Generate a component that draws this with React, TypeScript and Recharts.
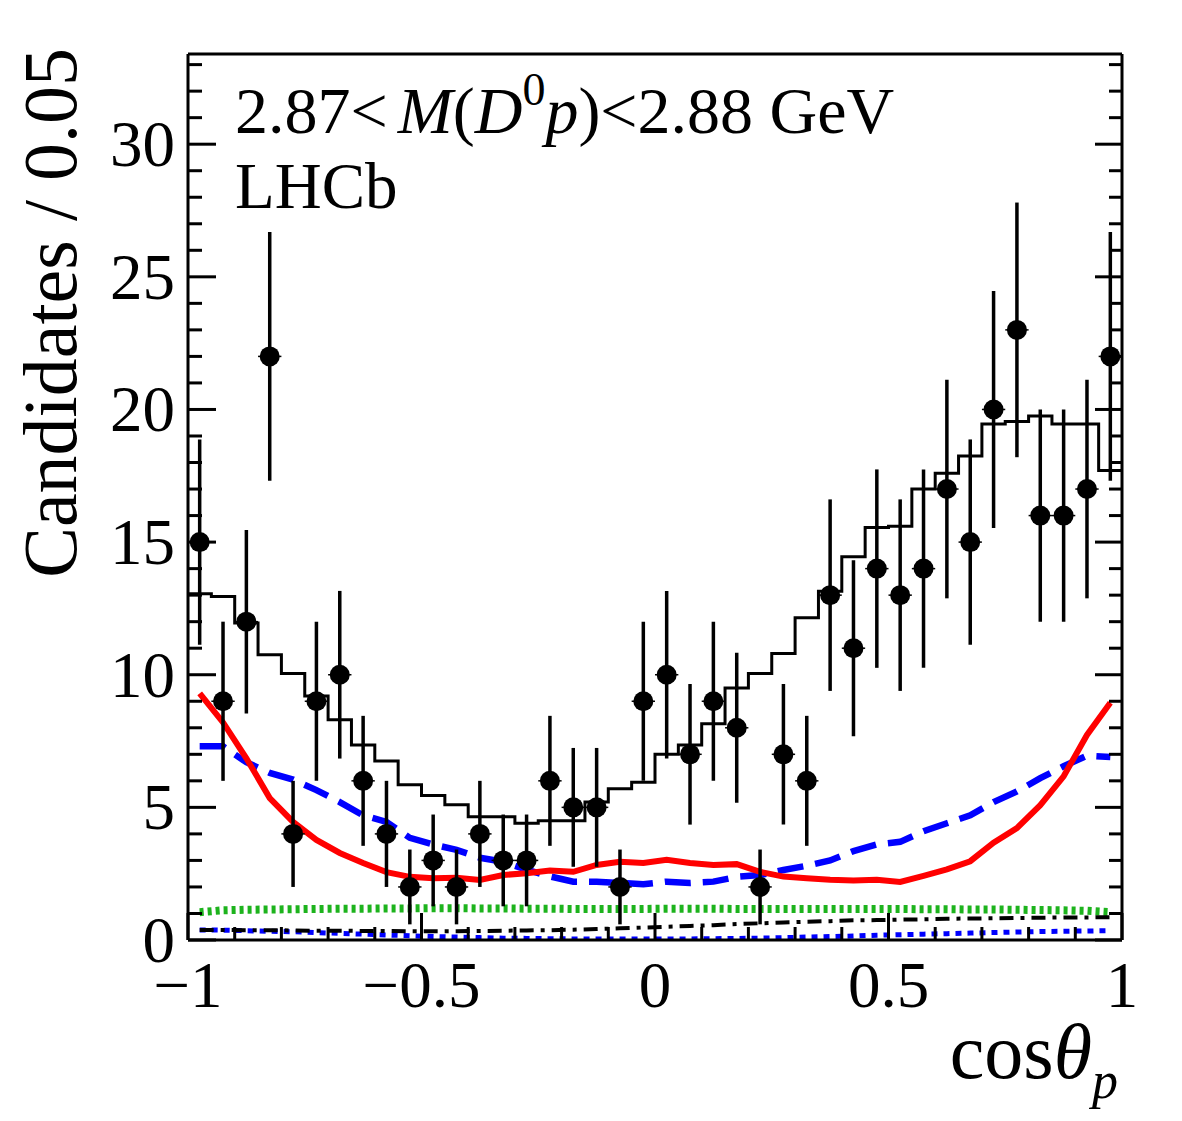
import React from "react";
import {
  ComposedChart,
  Line,
  Scatter,
  ErrorBar,
  XAxis,
  YAxis,
} from "recharts";

// bin centres of cos(theta_p), 40 bins of 0.05
const binCenters = [
  -0.975, -0.925, -0.875, -0.825, -0.775, -0.725, -0.675, -0.625, -0.575, -0.525,
  -0.475, -0.425, -0.375, -0.325, -0.275, -0.225, -0.175, -0.125, -0.075, -0.025,
  0.025, 0.075, 0.125, 0.175, 0.225, 0.275, 0.325, 0.375, 0.425, 0.475,
  0.525, 0.575, 0.625, 0.675, 0.725, 0.775, 0.825, 0.875, 0.925, 0.975,
];

const counts = [
  15, 9, 12, 22, 4, 9, 10, 6, 4, 2, 3, 2, 4, 3, 3, 6, 5, 5, 2, 9,
  10, 7, 9, 8, 2, 7, 6, 13, 11, 14, 13, 14, 17, 15, 20, 23, 16, 16, 17, 22,
];

const countErrors = [
  3.87, 3.0, 3.46, 4.69, 2.0, 3.0, 3.16, 2.45, 2.0, 1.41, 1.73, 1.41, 2.0, 1.73, 1.73, 2.45, 2.24, 2.24, 1.41, 3.0,
  3.16, 2.65, 3.0, 2.83, 1.41, 2.65, 2.45, 3.61, 3.32, 3.74, 3.61, 3.74, 4.12, 3.87, 4.47, 4.8, 4.0, 4.0, 4.12, 4.69,
];

// total fit (black histogram)
const totalFit = [
  13.05, 12.95, 11.95, 10.75, 10.05, 9.2, 8.3, 7.35, 6.75, 5.85,
  5.45, 5.1, 4.65, 4.65, 4.4, 4.5, 4.5, 5.2, 5.7, 5.95,
  7.0, 7.35, 8.15, 9.5, 10.05, 10.8, 12.15, 13.15, 14.45, 15.55,
  15.6, 17.0, 17.6, 18.25, 19.45, 19.55, 19.75, 19.45, 19.45, 17.7,
];

const redComp = [
  9.3, 8.2, 6.85, 5.35, 4.45, 3.77, 3.28, 2.9, 2.56, 2.38,
  2.33, 2.35, 2.26, 2.45, 2.52, 2.62, 2.57, 2.83, 2.95, 2.9,
  3.02, 2.9, 2.83, 2.86, 2.57, 2.39, 2.33, 2.27, 2.24, 2.27,
  2.19, 2.42, 2.66, 2.97, 3.67, 4.22, 5.08, 6.17, 7.73, 8.94,
];

const blueDashed = [
  7.3, 7.3, 6.7, 6.3, 6.05, 5.65, 5.2, 4.7, 4.45, 3.85,
  3.6, 3.4, 3.1, 2.95, 2.65, 2.4, 2.2, 2.2, 2.15, 2.1,
  2.2, 2.15, 2.2, 2.38, 2.45, 2.64, 2.8, 3.0, 3.35, 3.6,
  3.7, 4.1, 4.4, 4.7, 5.2, 5.6, 6.1, 6.55, 6.95, 6.9,
];

const greenDotted = [
  1.05, 1.12, 1.14, 1.15, 1.16, 1.17, 1.18, 1.18, 1.19, 1.19,
  1.2, 1.2, 1.19, 1.19, 1.18, 1.18, 1.17, 1.17, 1.17, 1.17,
  1.18, 1.18, 1.18, 1.17, 1.17, 1.17, 1.17, 1.17, 1.17, 1.17,
  1.17, 1.16, 1.16, 1.15, 1.15, 1.14, 1.13, 1.12, 1.1, 1.05,
];

const blackDashDot = [
  0.38, 0.38, 0.37, 0.37, 0.36, 0.35, 0.35, 0.34, 0.34, 0.33,
  0.33, 0.33, 0.34, 0.35, 0.36, 0.37, 0.39, 0.41, 0.44, 0.47,
  0.5, 0.53, 0.56, 0.6, 0.63, 0.66, 0.69, 0.71, 0.74, 0.75,
  0.77, 0.78, 0.8, 0.81, 0.82, 0.83, 0.84, 0.85, 0.85, 0.86,
];

const blueDotted = [
  0.38, 0.37, 0.35, 0.33, 0.31, 0.28, 0.25, 0.22, 0.19, 0.16,
  0.13, 0.11, 0.09, 0.07, 0.06, 0.05, 0.04, 0.04, 0.04, 0.04,
  0.04, 0.04, 0.05, 0.06, 0.07, 0.09, 0.11, 0.13, 0.15, 0.18,
  0.2, 0.22, 0.24, 0.26, 0.28, 0.3, 0.32, 0.33, 0.34, 0.35,
];

const xTicks = [-1, -0.9, -0.8, -0.7, -0.6, -0.5, -0.4, -0.3, -0.2, -0.1, 0, 0.1, 0.2, 0.3, 0.4, 0.5, 0.6, 0.7, 0.8, 0.9, 1];
const xLabels: Record<string, string> = { "-1": "\u22121", "-0.5": "\u22120.5", "0": "0", "0.5": "0.5", "1": "1" };
const yTicks = [0, 1, 2, 3, 4, 5, 6, 7, 8, 9, 10, 11, 12, 13, 14, 15, 16, 17, 18, 19, 20, 21, 22, 23, 24, 25, 26, 27, 28, 29, 30, 31, 32, 33];

const halfBin = 0.025;
const FONT = '"Liberation Serif", "Times New Roman", serif';

const points = binCenters.map((x, i) => ({ x, y: counts[i], ey: countErrors[i], ex: halfBin }));
const curve = (vals: number[]) => binCenters.map((x, i) => ({ x, v: vals[i] }));
const histo = [
  ...binCenters.map((x, i) => ({ x: x - halfBin, v: totalFit[i] })),
  { x: binCenters[binCenters.length - 1] + halfBin, v: totalFit[totalFit.length - 1] },
];

const isMajorX = (v: number) => xLabels[String(v)] !== undefined;
const isMajorY = (v: number) => v % 5 === 0;

function BottomTick(props: any) {
  const { x, y, payload } = props;
  const major = isMajorX(payload.value);
  return (
    <g>
      <line x1={x} x2={x} y1={y} y2={y - (major ? 27 : 13)} stroke="#000" strokeWidth={3} />
      {major && (
        <text x={x} y={y + 67} textAnchor="middle" fontSize={65} fontFamily={FONT} fill="#000">
          {xLabels[String(payload.value)]}
        </text>
      )}
    </g>
  );
}

function TopTick(props: any) {
  const { x, y, payload } = props;
  const major = isMajorX(payload.value);
  return <line x1={x} x2={x} y1={y} y2={y + (major ? 27 : 13)} stroke="#000" strokeWidth={3} />;
}

function LeftTick(props: any) {
  const { x, y, payload } = props;
  const major = isMajorY(payload.value);
  return (
    <g>
      <line x1={x} x2={x + (major ? 28 : 14)} y1={y} y2={y} stroke="#000" strokeWidth={3} />
      {major && (
        <text x={x - 13} y={y + 22} textAnchor="end" fontSize={65} fontFamily={FONT} fill="#000">
          {payload.value}
        </text>
      )}
    </g>
  );
}

function RightTick(props: any) {
  const { x, y, payload } = props;
  const major = isMajorY(payload.value);
  return <line x1={x} x2={x - (major ? 27 : 13)} y1={y} y2={y} stroke="#000" strokeWidth={3} />;
}

const Dot = (props: any) => <circle cx={props.cx} cy={props.cy} r={10} fill="#000" />;

export default function App() {
  return (
    <div style={{ position: "absolute", left: 0, top: 0, width: 1182, height: 1121, background: "#fff" }}>
      <ComposedChart width={1182} height={1121} margin={{ top: 24, right: 0, bottom: 151, left: 128 }}>
        <XAxis
          dataKey="x"
          type="number"
          domain={[-1, 1]}
          allowDataOverflow
          ticks={xTicks}
          interval={0}
          tickSize={0}
          tickMargin={0}
          height={30}
          tick={BottomTick}
          axisLine={{ stroke: "#000", strokeWidth: 3 }}
        />
        <XAxis
          xAxisId="top"
          orientation="top"
          type="number"
          domain={[-1, 1]}
          allowDataOverflow
          ticks={xTicks}
          interval={0}
          tickSize={0}
          tickMargin={0}
          height={30}
          tick={TopTick}
          axisLine={{ stroke: "#000", strokeWidth: 3 }}
        />
        <YAxis
          type="number"
          domain={[0, 33.4]}
          allowDataOverflow
          ticks={yTicks}
          interval={0}
          tickSize={0}
          tickMargin={0}
          width={60}
          tick={LeftTick}
          axisLine={{ stroke: "#000", strokeWidth: 3 }}
        />
        <YAxis
          yAxisId="right"
          orientation="right"
          type="number"
          domain={[0, 33.4]}
          allowDataOverflow
          ticks={yTicks}
          interval={0}
          tickSize={0}
          tickMargin={0}
          width={60}
          tick={RightTick}
          axisLine={{ stroke: "#000", strokeWidth: 3 }}
        />

        <Line data={curve(greenDotted)} dataKey="v" type="linear" stroke="#1db31d" strokeWidth={8} strokeDasharray="4 4" dot={false} isAnimationActive={false} />
        <Line data={curve(blueDotted)} dataKey="v" type="linear" stroke="#0000ff" strokeWidth={5} strokeDasharray="6 6" dot={false} isAnimationActive={false} />
        <Line data={curve(blackDashDot)} dataKey="v" type="linear" stroke="#000" strokeWidth={4} strokeDasharray="14 7 4 7" dot={false} isAnimationActive={false} />
        <Line data={curve(blueDashed)} dataKey="v" type="linear" stroke="#0000ff" strokeWidth={6.5} strokeDasharray="26 12" dot={false} isAnimationActive={false} />
        <Line data={curve(redComp)} dataKey="v" type="linear" stroke="#ff0000" strokeWidth={6} dot={false} isAnimationActive={false} />
        <Line data={histo} dataKey="v" type="stepAfter" stroke="#000" strokeWidth={3} dot={false} isAnimationActive={false} />

        <Scatter data={points} dataKey="y" shape={Dot} isAnimationActive={false}>
          <ErrorBar dataKey="ey" direction="y" width={0} stroke="#000" strokeWidth={3.5} />
          <ErrorBar dataKey="ex" direction="x" width={0} stroke="#000" strokeWidth={1.5} />
        </Scatter>
      </ComposedChart>

      <svg width={1182} height={1121} style={{ position: "absolute", left: 0, top: 0, pointerEvents: "none" }}>
        <text x={235} y={133} fontSize={66} fontFamily={FONT} fill="#000">
          2.87&lt;
          <tspan fontStyle="italic" dx={10}>M</tspan>(<tspan fontStyle="italic">D</tspan>
          <tspan fontSize={46} dy={-28}>0</tspan>
          <tspan fontStyle="italic" dy={28}>p</tspan>)&lt;2.88 GeV
        </text>
        <text x={235} y={208} fontSize={65} fontFamily={FONT} fill="#000">LHCb</text>
        <text transform="translate(76, 48) rotate(-90)" textAnchor="end" fontSize={76} fontFamily={FONT} fill="#000">
          Candidates / 0.05
        </text>
        <text x={1118} y={1078} textAnchor="end" fontSize={78} fontFamily={FONT} fill="#000">
          cos<tspan fontStyle="italic">θ</tspan>
          <tspan fontStyle="italic" fontSize={52} dy={20}>p</tspan>
        </text>
      </svg>
    </div>
  );
}
